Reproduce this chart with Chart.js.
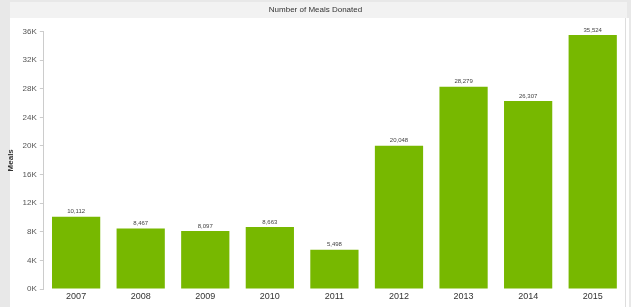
<!DOCTYPE html>
<html>
<head>
<meta charset="utf-8">
<script src="https://cdn.jsdelivr.net/npm/chart.js@4"></script>
<style>
  html, body { margin: 0; padding: 0; background: #e8e8e8; }
  #wrap { width: 631px; height: 307px; position: relative; }
</style>
</head>
<body>
<div id="wrap"><canvas id="mealsChart" width="631" height="307"></canvas></div>
<script>
  "use strict";

  const years = ["2007", "2008", "2009", "2010", "2011", "2012", "2013", "2014", "2015"];
  const meals = [10112, 8467, 8097, 8663, 5498, 20048, 28279, 26307, 35524];
  const yTicks = [0, 4000, 8000, 12000, 16000, 20000, 24000, 28000, 32000, 36000];

  const panelBg = {
    id: "panelBg",
    beforeDraw: (chart) => {
      const { ctx, width, height } = chart;
      ctx.save();
      ctx.fillStyle = "#e8e8e8";
      ctx.fillRect(0, 0, width, height);
      ctx.fillStyle = "#f2f2f2";
      ctx.fillRect(10, 2, width - 14, 16);
      ctx.fillStyle = "#ffffff";
      ctx.fillRect(10, 18, width - 12, height - 18);
      ctx.strokeStyle = "#dddddd";
      ctx.beginPath();
      ctx.moveTo(width - 5.5, 18);
      ctx.lineTo(width - 5.5, height);
      ctx.stroke();
      ctx.restore();
    },
  };

  const barValues = {
    id: "barValues",
    afterDatasetsDraw: (chart) => {
      const { ctx } = chart;
      const meta = chart.getDatasetMeta(0);
      ctx.save();
      ctx.font = "6px 'Liberation Sans', Arial, sans-serif";
      ctx.fillStyle = "#444444";
      ctx.textAlign = "center";
      ctx.textBaseline = "bottom";
      meta.data.forEach((bar, i) => {
        ctx.fillText(meals[i].toLocaleString("en-US"), bar.x, bar.y - 2);
      });
      ctx.restore();
    },
  };

  new Chart(document.getElementById("mealsChart"), {
    type: "bar",
    data: {
      labels: years,
      datasets: [
        {
          label: "Meals",
          data: meals,
          backgroundColor: "#77b800",
          borderWidth: 0,
          barPercentage: 0.83,
          categoryPercentage: 0.9,
        },
      ],
    },
    options: {
      responsive: false,
      animation: false,
      layout: {
        padding: { left: 6, right: 6, top: 0, bottom: 2 },
      },
      plugins: {
        legend: { display: false },
        tooltip: { enabled: false },
        title: {
          display: true,
          text: "Number of Meals Donated",
          color: "#333333",
          font: { size: 8, weight: "normal", family: "'Liberation Sans', Arial, sans-serif" },
          padding: { top: 5, bottom: 17 },
        },
      },
      scales: {
        y: {
          min: 0,
          max: 36000,
          afterBuildTicks: (scale) => {
            scale.ticks = yTicks.map((v) => ({ value: v }));
          },
          ticks: {
            color: "#555555",
            font: { size: 8, family: "'Liberation Sans', Arial, sans-serif" },
            padding: 3,
            callback: (v) => v / 1000 + "K",
          },
          grid: {
            display: true,
            drawOnChartArea: false,
            tickLength: 4,
            color: "#cccccc",
          },
          border: { color: "#cccccc" },
          title: {
            display: true,
            text: "Meals",
            color: "#333333",
            font: { size: 8, weight: "bold", family: "'Liberation Sans', Arial, sans-serif" },
            padding: { top: 0, bottom: 4 },
          },
        },
        x: {
          afterFit: (scale) => {
            scale.height = 16;
          },
          ticks: {
            color: "#333333",
            font: { size: 9, family: "'Liberation Sans', Arial, sans-serif" },
            padding: 2,
          },
          grid: { display: false, drawTicks: false },
          border: { display: false },
        },
      },
    },
    plugins: [panelBg, barValues],
  });
</script>
</body>
</html>
